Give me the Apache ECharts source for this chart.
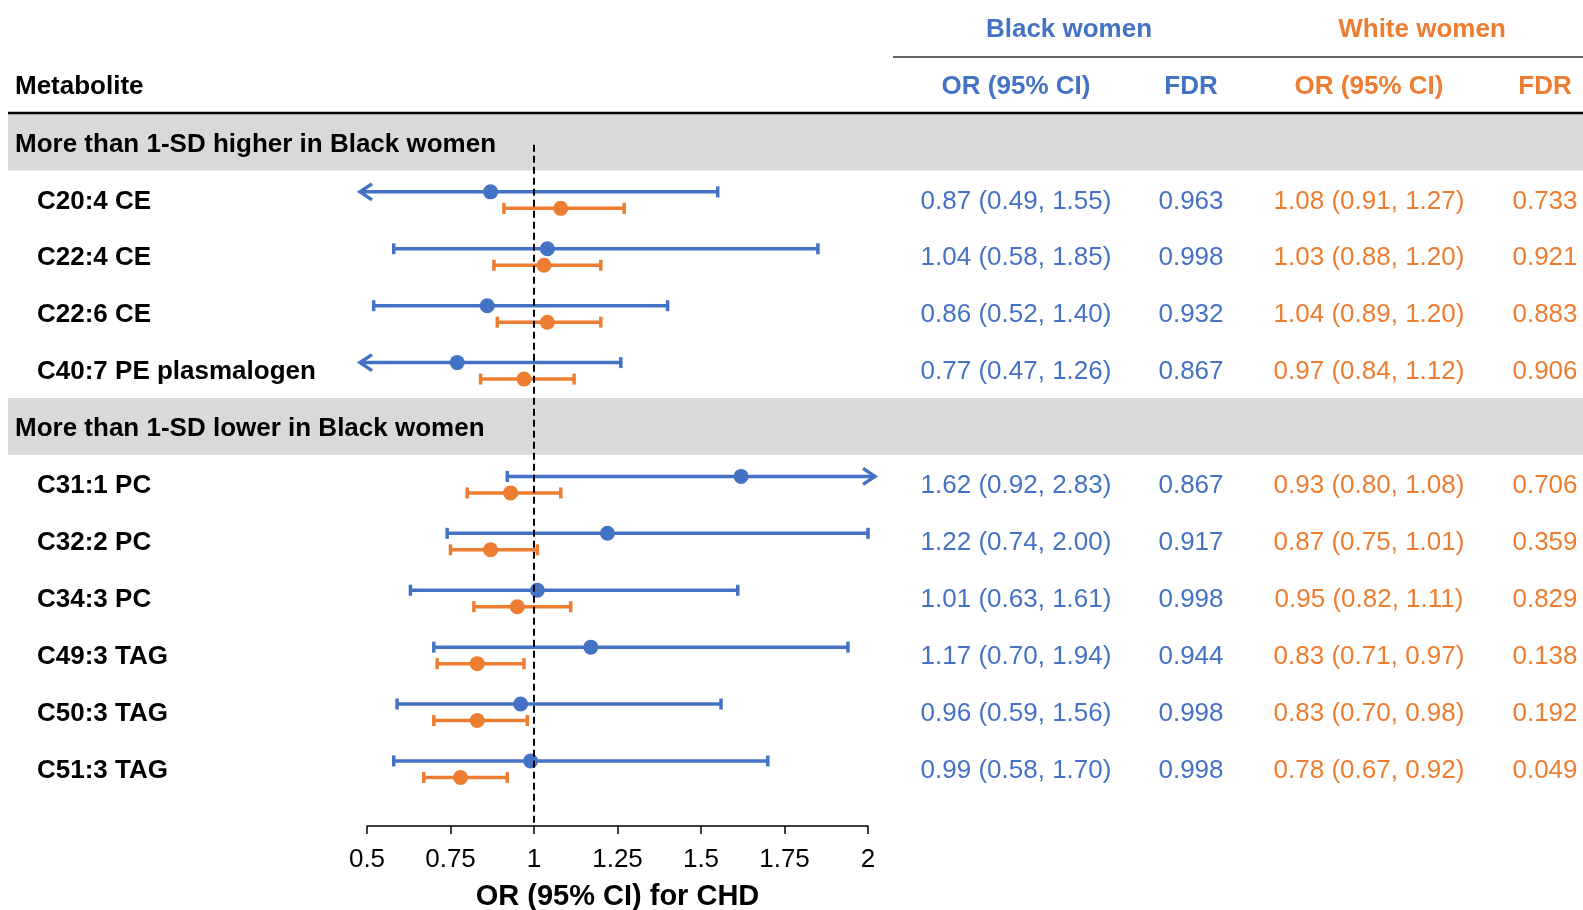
<!DOCTYPE html>
<html>
<head>
<meta charset="utf-8">
<script src="https://cdn.jsdelivr.net/npm/echarts@6/dist/echarts.min.js"></script>
<style>
  html, body { margin: 0; padding: 0; background: #fff; }
  #chart { width: 1583px; height: 910px; }
</style>
</head>
<body>
<div id="chart"></div>
<script>
// data
var groupNames = ['More than 1-SD higher in Black women', 'More than 1-SD lower in Black women'];
var groupSizes = [4, 6];
var metabolites = ['C20:4 CE', 'C22:4 CE', 'C22:6 CE', 'C40:7 PE plasmalogen',
  'C31:1 PC', 'C32:2 PC', 'C34:3 PC', 'C49:3 TAG', 'C50:3 TAG', 'C51:3 TAG'];
var blackOR = [0.87, 1.04, 0.86, 0.77, 1.62, 1.22, 1.01, 1.17, 0.96, 0.99];
var blackLo = [0.49, 0.58, 0.52, 0.47, 0.92, 0.74, 0.63, 0.70, 0.59, 0.58];
var blackHi = [1.55, 1.85, 1.40, 1.26, 2.83, 2.00, 1.61, 1.94, 1.56, 1.70];
var blackFDR = ['0.963', '0.998', '0.932', '0.867', '0.867', '0.917', '0.998', '0.944', '0.998', '0.998'];
var whiteOR = [1.08, 1.03, 1.04, 0.97, 0.93, 0.87, 0.95, 0.83, 0.83, 0.78];
var whiteLo = [0.91, 0.88, 0.89, 0.84, 0.80, 0.75, 0.82, 0.71, 0.70, 0.67];
var whiteHi = [1.27, 1.20, 1.20, 1.12, 1.08, 1.01, 1.11, 0.97, 0.98, 0.92];
var whiteFDR = ['0.733', '0.921', '0.883', '0.906', '0.706', '0.359', '0.829', '0.138', '0.192', '0.049'];
var xTicks = [0.5, 0.75, 1, 1.25, 1.5, 1.75, 2];

var BLUE = '#4472C4';
var ORANGE = '#ED7D31';
var FONT = '"Liberation Sans", Arial, sans-serif';
var xMin = xTicks[0], xMax = xTicks[xTicks.length - 1];
var yMax = 12.02;
var TEXT_DY = 2.5; // row text sits a touch below the row centre

// row index of every group header and metabolite
var groupRows = [];
var metRows = [];
var r = 0;
groupSizes.forEach(function (n) {
  groupRows.push(r++);
  for (var k = 0; k < n; k++) metRows.push(r++);
});

function fmt(or, lo, hi) {
  return or.toFixed(2) + ' (' + lo.toFixed(2) + ', ' + hi.toFixed(2) + ')';
}

// error bar with caps, or an arrow when the CI runs off the axis
function ciRenderer(offset, color) {
  return function (params, api) {
    var row = api.value(0), lo = api.value(1), hi = api.value(2);
    var y = api.coord([xMin, row])[1] + offset;
    var x1 = api.coord([Math.max(lo, xMin), row])[0];
    var x2 = api.coord([Math.min(hi, xMax), row])[0];
    var st = { stroke: color, lineWidth: 3.5, fill: null };
    var kids = [];
    if (lo < xMin) {
      x1 -= 7;
      kids.push({ type: 'polyline', shape: { points: [[x1 + 12, y - 8], [x1, y], [x1 + 12, y + 8]] }, style: st });
    } else {
      kids.push({ type: 'line', shape: { x1: x1, y1: y - 5.5, x2: x1, y2: y + 5.5 }, style: st });
    }
    if (hi > xMax) {
      x2 += 7;
      kids.push({ type: 'polyline', shape: { points: [[x2 - 12, y - 8], [x2, y], [x2 - 12, y + 8]] }, style: st });
    } else {
      kids.push({ type: 'line', shape: { x1: x2, y1: y - 5.5, x2: x2, y2: y + 5.5 }, style: st });
    }
    kids.push({ type: 'line', shape: { x1: x1, y1: y, x2: x2, y2: y }, style: st });
    return { type: 'group', children: kids };
  };
}

function txt(x, y, text, align, color, bold) {
  return {
    type: 'text',
    style: {
      x: x, y: y, text: text,
      align: align, verticalAlign: 'middle',
      textAlign: align, textVerticalAlign: 'middle',
      fill: color,
      font: (bold ? 'bold ' : '') + '26px ' + FONT
    }
  };
}

var chart = echarts.init(document.getElementById('chart'));

var option = {
  backgroundColor: '#fff',
  animation: false,
  grid: { left: 367, right: 715, top: 113.5, bottom: 84, outerBoundsMode: 'none', containLabel: false },
  xAxis: {
    type: 'value',
    position: 'bottom',
    min: xMin, max: xMax, interval: 0.25,
    axisLine: { onZero: false, lineStyle: { color: '#000', width: 1.5 } },
    axisTick: { inside: false, length: 8, lineStyle: { color: '#000', width: 1.5 } },
    axisLabel: { color: '#000', fontSize: 26, fontFamily: FONT, margin: 21 },
    splitLine: { show: false },
    name: 'OR (95% CI) for CHD',
    nameLocation: 'middle',
    nameGap: 56,
    nameTextStyle: { color: '#000', fontSize: 29, fontWeight: 'bold', fontFamily: FONT }
  },
  yAxis: {
    type: 'value', inverse: true, min: -0.5, max: yMax, show: false
  },
  graphic: [
    { type: 'line', shape: { x1: 893, y1: 57, x2: 1583, y2: 57 }, style: { stroke: '#333', lineWidth: 1.5 } },
    { type: 'line', shape: { x1: 8, y1: 113, x2: 1583, y2: 113 }, style: { stroke: '#000', lineWidth: 2.5 }, z: 10 },
    txt(1069, 30, 'Black women', 'center', BLUE, true),
    txt(1422, 30, 'White women', 'center', ORANGE, true),
    txt(15, 87, 'Metabolite', 'left', '#000', true),
    txt(1016, 87, 'OR (95% CI)', 'center', BLUE, true),
    txt(1191, 87, 'FDR', 'center', BLUE, true),
    txt(1369, 87, 'OR (95% CI)', 'center', ORANGE, true),
    txt(1545, 87, 'FDR', 'center', ORANGE, true)
  ],
  series: [
    {
      // grey group bands
      type: 'custom',
      z: 0,
      data: groupRows.map(function (row) { return [row]; }),
      renderItem: function (params, api) {
        var y = api.coord([xMin, api.value(0)])[1];
        var h = api.size([0, 1])[1];
        return {
          type: 'group',
          children: [
            { type: 'rect', shape: { x: 8, y: y - h / 2, width: 1575, height: h }, style: { fill: '#D9D9D9' } },
            txt(15, y + TEXT_DY, groupNames[params.dataIndex], 'left', '#000', true)
          ]
        };
      }
    },
    {
      // table columns
      type: 'custom',
      z: 1,
      data: metRows.map(function (row) { return [row]; }),
      renderItem: function (params, api) {
        var i = params.dataIndex;
        var y = api.coord([xMin, api.value(0)])[1] + TEXT_DY;
        return {
          type: 'group',
          children: [
            txt(37, y, metabolites[i], 'left', '#000', true),
            txt(1016, y, fmt(blackOR[i], blackLo[i], blackHi[i]), 'center', BLUE, false),
            txt(1191, y, blackFDR[i], 'center', BLUE, false),
            txt(1369, y, fmt(whiteOR[i], whiteLo[i], whiteHi[i]), 'center', ORANGE, false),
            txt(1545, y, whiteFDR[i], 'center', ORANGE, false)
          ]
        };
      }
    },
    {
      name: 'Black CI',
      type: 'custom',
      z: 3,
      data: metRows.map(function (row, i) { return [row, blackLo[i], blackHi[i]]; }),
      renderItem: ciRenderer(-7, BLUE),
      markLine: {
        silent: true,
        symbol: 'none',
        label: { show: false },
        lineStyle: { color: '#000', type: [7, 4], width: 2 },
        data: [[{ coord: [1, 0.05] }, { coord: [1, yMax] }]]
      }
    },
    {
      name: 'White CI',
      type: 'custom',
      z: 3,
      data: metRows.map(function (row, i) { return [row, whiteLo[i], whiteHi[i]]; }),
      renderItem: ciRenderer(9.5, ORANGE)
    },
    {
      name: 'Black OR',
      type: 'scatter',
      z: 4,
      symbol: 'circle',
      symbolSize: 15,
      symbolOffset: [0, -7],
      itemStyle: { color: BLUE, opacity: 1 },
      data: metRows.map(function (row, i) { return [blackOR[i], row]; })
    },
    {
      name: 'White OR',
      type: 'scatter',
      z: 4,
      symbol: 'circle',
      symbolSize: 15,
      symbolOffset: [0, 9.5],
      itemStyle: { color: ORANGE, opacity: 1 },
      data: metRows.map(function (row, i) { return [whiteOR[i], row]; })
    }
  ]
};

chart.setOption(option);
</script>
</body>
</html>
